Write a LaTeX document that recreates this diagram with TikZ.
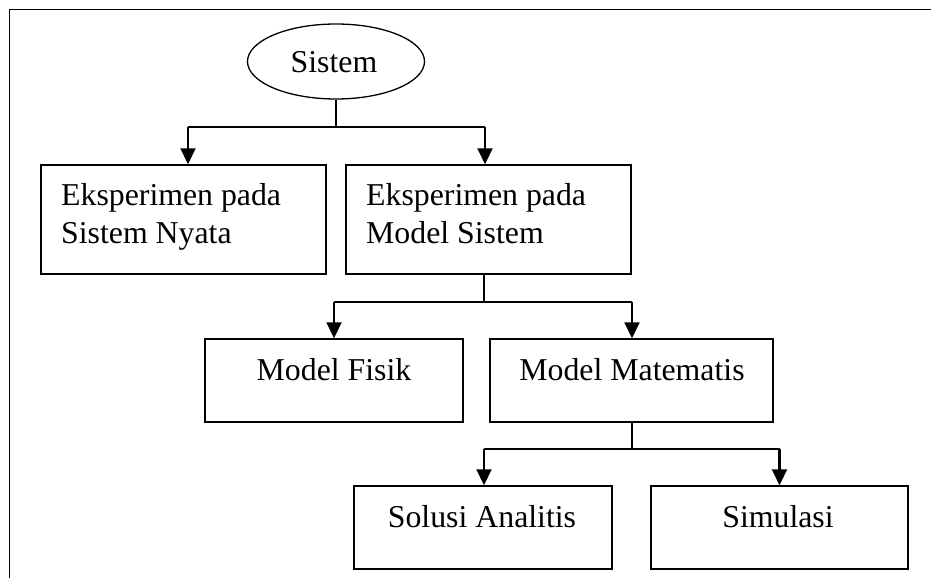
\documentclass[tikz,border=0pt]{standalone}
\usepackage{fontspec}
\setmainfont{Liberation Serif}
\usetikzlibrary{arrows.meta,shapes.geometric}
\begin{document}
\begin{tikzpicture}[x=1pt,y=-1pt,
  frame/.style={line width=1.6pt},
  boxnode/.style 2 args={draw, line width=1.5pt, rectangle, inner sep=0pt,
    minimum width=#1, minimum height=#2},
  ovalnode/.style={draw, line width=1.3pt, ellipse, inner sep=0pt,
    minimum width=177pt, minimum height=75pt},
  txt/.style={inner sep=0pt, font=\fontsize{31.8}{37.5}\selectfont},
  stem/.style={line width=1.1pt},
  conn/.style={line width=2.2pt},
  arr/.style={line width=2.2pt, -{Triangle[width=15pt,length=16pt]}}
]
\useasboundingbox (0,0) rectangle (931,578);
\fill[white] (0,0) rectangle (931,578);
% outer frame
\coordinate (f1) at (9.5,578);
\coordinate (f2) at (9.5,9.5);
\coordinate (f3) at (931,9.5);
\draw[frame] (f1) -- (f2) -- (f3);

% nodes
\node[ovalnode] (sys) at (336,61.5) {};
\node[txt, anchor=base] (tsys) at (334,72.7) {Sistem};

\node[boxnode={285pt}{109pt}] (b1) at (183.5,219.5) {};
\node[txt, anchor=base west] (t1a) at (61,205.5) {Eksperimen pada};
\node[txt, anchor=base west] (t1b) at (61,243) {Sistem Nyata};

\node[boxnode={285pt}{109pt}] (b2) at (488.5,219.5) {};
\node[txt, anchor=base west] (t2a) at (366,205.5) {Eksperimen pada};
\node[txt, anchor=base west] (t2b) at (366,243) {Model Sistem};

\node[boxnode={258pt}{83pt}] (b3) at (334,380.5) {};
\node[txt, anchor=base] (t3) at (334,380) {Model Fisik};

\node[boxnode={283pt}{83pt}] (b4) at (631.5,380.5) {};
\node[txt, anchor=base] (t4) at (632,380) {Model Matematis};

\node[boxnode={258pt}{83pt}] (b5) at (483,527.5) {};
\node[txt, anchor=base] (t5) at (482,527) {Solusi Analitis};

\node[boxnode={257pt}{83pt}] (b6) at (779.5,527.5) {};
\node[txt, anchor=base] (t6) at (778,527) {Simulasi};

% level 1 connectors
\coordinate (j1) at (sys.south |- 0,127);
\coordinate (a1) at (188,127);
\coordinate (a2) at (485,127);
\draw[stem] (sys.south) -- (j1);
\draw[conn] (a1) -- (a2);
\draw[arr] (a1) -- (a1 |- b1.north);
\draw[arr] (a2) -- (a2 |- b2.north);

% level 2 connectors
\coordinate (j2) at (484,301.7);
\coordinate (a3) at (b3.north |- j2);
\coordinate (a4) at (632,301.7);
\draw[stem] (j2 |- b2.south) -- (j2);
\draw[conn] (a3) -- (a4);
\draw[arr] (a3) -- (b3.north);
\draw[arr] (a4) -- (a4 |- b4.north);

% level 3 connectors
\coordinate (j3) at (632,449);
\coordinate (a5) at (484,449);
\coordinate (a6) at (779.5,449);
\draw[stem] (j3 |- b4.south) -- (j3);
\draw[conn] (a5) -- (a6);
\draw[arr] (a5) -- (a5 |- b5.north);
\draw[arr] (a6) -- (b6.north);
\end{tikzpicture}
\end{document}
